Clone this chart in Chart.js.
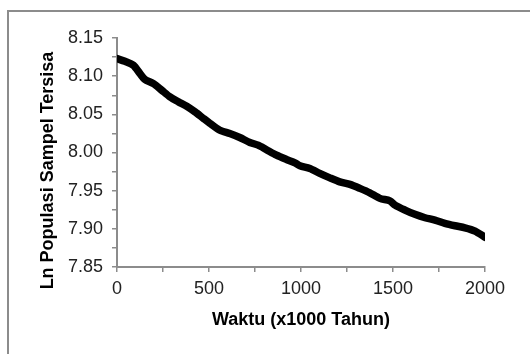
<!DOCTYPE html>
<html>
<head>
<meta charset="utf-8">
<script src="https://cdn.jsdelivr.net/npm/chart.js@4/dist/chart.umd.min.js"></script>
<style>
  html, body { margin: 0; padding: 0; background: #fff; overflow: hidden; }
  #frame { position: absolute; left: 7px; top: 10px; width: 600px; height: 400px; border: 2px solid #8c8c8c; }
  #wrap { position: absolute; left: 0; top: 0; width: 530px; height: 354px; }
</style>
</head>
<body>
<div id="frame"></div>
<div id="wrap"><canvas id="myChart" width="530" height="354"></canvas></div>
<script>
// waktu (x1000 tahun) and ln of remaining sample population
const years = [0, 43, 89, 125, 152, 198, 243, 288, 334, 379, 424, 470, 504, 559, 613, 667,
    722, 767, 810, 867, 921, 967, 994, 1048, 1102, 1157, 1211, 1266, 1320, 1374, 1429,
    1483, 1511, 1565, 1619, 1674, 1728, 1782, 1837, 1891, 1946, 2000];
const lnPop = [8.123, 8.1195, 8.1143, 8.1034, 8.0956, 8.0903, 8.0816, 8.0728, 8.0663, 8.0606,
    8.0532, 8.0446, 8.0384, 8.0292, 8.0249, 8.0197, 8.0132, 8.0096, 8.004, 7.9965, 7.9909,
    7.9865, 7.9825, 7.9791, 7.9726, 7.9668, 7.9616, 7.9582, 7.953, 7.9472, 7.9399, 7.9367,
    7.9311, 7.9246, 7.919, 7.9145, 7.9115, 7.9072, 7.904, 7.9014, 7.8971, 7.889];

const xTitle = 'Waktu (x1000 Tahun)';
const yTitle = 'Ln Populasi Sampel Tersisa';

const FONT = '"Liberation Sans", Arial, sans-serif';
const AXIS_GREY = '#8c8c8c';

// excel puts the y title a bit lower than the plot centre, so draw it by hand
const yTitlePlugin = {
    id: 'yTitlePlugin',
    afterDraw(chart) {
        const c = chart.ctx;
        const area = chart.chartArea;
        c.save();
        c.translate(area.left - 69, (area.top + area.bottom) / 2 + 18);
        c.rotate(-Math.PI / 2);
        c.font = 'bold 18px ' + FONT;
        c.fillStyle = '#000';
        c.textAlign = 'center';
        c.textBaseline = 'middle';
        c.fillText(yTitle, 0, 0);
        c.restore();
    }
};

const data = {
    datasets: [{
        data: years.map((x, i) => ({ x: x, y: lnPop[i] })),
        showLine: true,
        borderColor: '#000',
        backgroundColor: '#000',
        borderWidth: 7.5,
        borderCapStyle: 'round',
        borderJoinStyle: 'round',
        pointRadius: 0,
        tension: 0.25
    }]
};

const config = {
    type: 'scatter',
    data: data,
    options: {
        responsive: false,
        animation: false,
        layout: { padding: { left: 0, top: 38, right: 45, bottom: 0 } },
        plugins: {
            legend: { display: false },
            title: { display: false },
            tooltip: { enabled: false }
        },
        scales: {
            x: {
                type: 'linear',
                min: 0,
                max: 2000,
                afterFit(scale) { scale.height = 87; },
                border: { display: true, color: AXIS_GREY, width: 2 },
                grid: { drawOnChartArea: false, drawTicks: true, tickLength: 5, color: AXIS_GREY, lineWidth: 1.5 },
                ticks: {
                    stepSize: 250,
                    autoSkip: false,
                    maxRotation: 0,
                    padding: 6,
                    color: '#222',
                    font: { family: FONT, size: 18 },
                    callback: v => (v % 500 === 0 ? String(v) : '')
                },
                title: {
                    display: true,
                    text: xTitle,
                    color: '#000',
                    font: { family: FONT, size: 18, weight: 'bold' },
                    padding: { top: 0, bottom: 23 }
                }
            },
            y: {
                type: 'linear',
                min: 7.85,
                max: 8.15,
                afterFit(scale) { scale.width = 117; },
                border: { display: true, color: AXIS_GREY, width: 2 },
                grid: { drawOnChartArea: false, drawTicks: true, tickLength: 5, color: AXIS_GREY, lineWidth: 1.5 },
                ticks: {
                    stepSize: 0.025,
                    autoSkip: false,
                    padding: 9,
                    color: '#222',
                    font: { family: FONT, size: 18 },
                    callback: v => (Math.round(v * 1000) % 50 === 0 ? v.toFixed(2) : '')
                }
            }
        }
    },
    plugins: [yTitlePlugin]
};

const ctx = document.getElementById('myChart');
let myChart = new Chart(ctx, config);
</script>
</body>
</html>
